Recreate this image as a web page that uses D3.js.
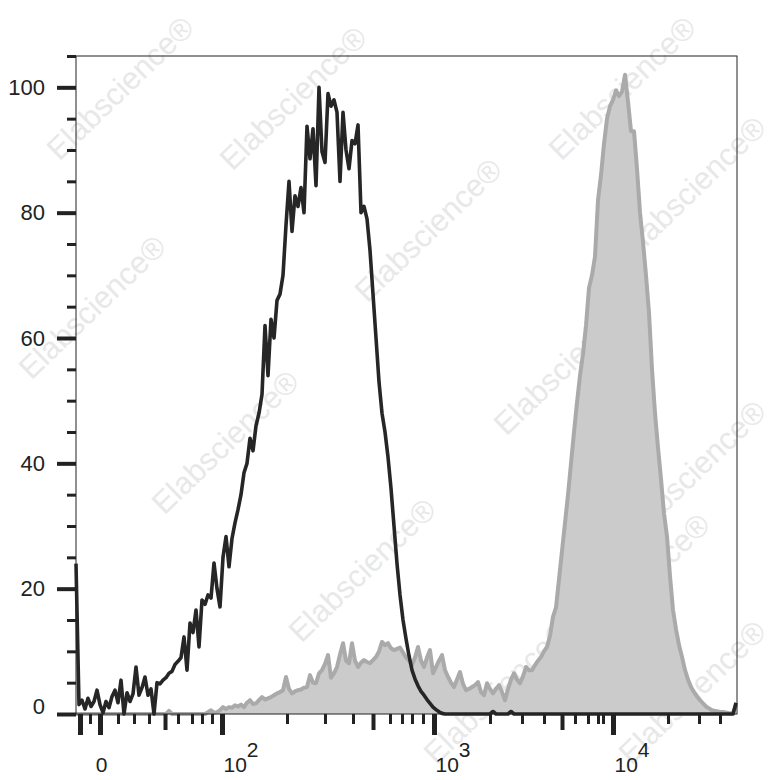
<!DOCTYPE html>
<html><head><meta charset="utf-8">
<script src="https://cdn.jsdelivr.net/npm/d3@7"></script>
<style>body{margin:0;background:#fff}</style>
</head><body><svg id="c" width="779" height="780"></svg>
<script>
// ---- data (histogram counts per display channel, % of max) ----
const channelMax = 220.33;
const yMax = 105;
const blackCounts = [
24,1.5,2.2,0.8,2.5,1.2,2.0,3.8,1.5,0.2,
2.0,1.0,2.8,3.8,1.8,5.4,0,3.4,2.0,3.2,
7.5,3.0,4.2,5.9,3.0,4.0,0,5.0,4.8,5.4,
5.8,6.5,6.8,7.9,8.4,9.0,12.3,7.0,14.5,13,
16.6,10.7,18.2,17.5,19.0,18.5,24.1,20,17.1,25,
28.3,23.5,28,30.5,32.6,35,38.5,40,44,42,
46,48,51,62,54,63,60,66,67,70,
78,85,77,82.7,81,84,80,93.8,88.6,93.4,
84.3,100,89.7,88,99,97,98,96,85,96,
90,87,91.5,91,94,80,81,79,74,67,
60,53,48,45,41,36,30,24,19,15,
12,9.3,7,5.6,4.5,3.6,3.0,2.3,1.7,1.1,
0.7,0.35,0.1,0,0,0,0,0,0,0,
0,0,0,0,0,0,0,0,0,0.4,
0,0,0,0,0,0.4,0,0,0,0,
0,0,0,0,0,0,0,0,0,0,
0,0,0,0,0,0,0,0,0,0,
0,0,0,0,0,0,0,0,0,0,
0,0,0,0,0,0,0,0,0,0,
0,0,0,0,0,0,0,0,0,0,
0,0,0,0,0,0,0,0,0,0,
0,0,0,0,0,0,0,0,0,0,
1.8];
const greyCounts = [
0,0,0,0,0,0,0,0,0,0,
0,0,0,0,0,0,0,0,0,0,
0,0,0,0,0,0,0,0,0,0,
0,0.5,0,0,0,0,0,0,0,0,
0,0,0,0,0.3,0.6,0.2,0.3,0.6,1.1,
0.8,1.1,1.0,1.4,1.2,1.5,1.1,1.8,2.2,1.6,
1.7,2.2,2.7,2.3,2.5,2.7,3.0,3.3,3.5,3.8,
5.9,4.0,3.3,3.6,3.8,3.9,4.2,4.3,6.2,5.0,
4.9,6.5,7.0,8.0,9.4,5.8,6.5,7.5,9.5,11.3,
8.5,8.1,11.3,8.5,7.5,8.2,8.6,8.3,8.1,8.6,
9.1,10,11.5,11,11.3,10.5,10.2,10.4,10.6,9.8,
9.0,8.5,7.8,9.0,10.7,8.5,7.5,9.0,10.2,6.5,
7.5,8.5,9.4,7.0,5.9,5.0,4.3,5.5,6.7,4.8,
3.8,4.0,4.3,4.6,5.1,3.5,3.0,4.9,4.0,3.3,
4.0,4.6,3.5,2.2,4.0,5.5,6.5,5.5,4.9,6.0,
7.5,7.0,7.0,7.8,8.5,9.1,10.0,10.7,12.5,15.5,
17.0,21.5,26,30.5,35,40,45,49.7,54,57.5,
62,68,70,73,82,86,91,95,97,98,
99.5,98.6,99.3,102,97.7,93,93,87,80,75.3,
70,64,55,48,42.5,37.5,32,28.3,22,16.6,
13.5,11,9.1,7,5.5,4.3,3.5,2.8,2.2,1.7,
1.2,0.9,0.6,0.5,0.4,0.3,0.3,0.2,0.1,0.1,
1.5];
const yMajorTicks = [0,20,40,60,80,100];
const yMinorTicks = [5,10,15,25,30,35,45,50,55,65,70,75,85,90,95,105];
const xMajorTicks = [1.33, 8, 48.67, 119.33, 179];
const xMajorBase = ["", "0", "10", "10", "10"];
const xMajorExp = ["", "", "2", "3", "4"];
const xMidTicks = [29.67, 99, 162];
const xMinorTicks = [4.67, 14, 19.33, 24.33, 34, 38.67, 42, 45.33,
  70.33, 83, 92.33, 104.67, 108.67, 112, 115.67,
  138, 148.67, 156, 166.33, 170.67, 174, 175.67,
  197.33, 207.67, 214.67];
const watermarkText = "Elabscience\u00AE";

// ---- layout ----
const W = 779, H = 780;
const plot = {left:76, right:737, top:56, bottom:714};
const FONT = "Arial, 'Liberation Sans', sans-serif";
const ink = "#222";

const svg = d3.select("#c");
svg.append("rect").attr("width", W).attr("height", H).attr("fill", "#fff");

// watermarks (kept fully inside the picture)
const wmPos = [[120,88],[293,98],[622,88],[692,188],[92,307],[428,230],[567,363],
  [692,472],[225,442],[362,570],[636,585],[497,692],[692,692]];
const wm = svg.append("g");
wmPos.forEach(([cx, cy]) => {
  wm.append("text")
    .attr("transform", `translate(${cx},${cy}) rotate(-44)`)
    .attr("text-anchor", "middle").attr("dy", "0.35em")
    .attr("font-family", FONT).attr("font-size", 31)
    .attr("fill", "#e8e8e8").text(watermarkText);
});

const x = d3.scaleLinear().domain([0, channelMax]).range([plot.left, plot.right]);
const y = d3.scaleLinear().domain([0, yMax]).range([plot.bottom, plot.top]);
const bins = d3.range(greyCounts.length);

// grey filled histogram
svg.append("path").datum(bins)
  .attr("d", d3.area().x(i => x(i)).y0(y(0)).y1(i => y(greyCounts[i])))
  .attr("fill", "#cbcbcb");
svg.append("path").datum(bins)
  .attr("d", d3.line().x(i => x(i)).y(i => y(greyCounts[i])))
  .attr("fill", "none").attr("stroke", "#aaaaaa").attr("stroke-width", 4)
  .attr("stroke-linejoin", "round");

// black outline histogram
svg.append("path").datum(d3.range(blackCounts.length))
  .attr("d", d3.line().x(i => x(i)).y(i => y(blackCounts[i])))
  .attr("fill", "none").attr("stroke", "#262626").attr("stroke-width", 3.6)
  .attr("stroke-linejoin", "round");

// frame
svg.append("rect")
  .attr("x", plot.left).attr("y", plot.top)
  .attr("width", plot.right - plot.left).attr("height", plot.bottom - plot.top)
  .attr("fill", "none").attr("stroke", ink).attr("stroke-width", 1);

// y axis
const gyMinor = svg.append("g").attr("transform", `translate(${plot.left},0)`)
  .call(d3.axisLeft(y).tickValues(yMinorTicks).tickSize(9).tickFormat(""));
gyMinor.select(".domain").remove();
gyMinor.selectAll(".tick line").attr("stroke", ink).attr("stroke-width", 3);

const gy = svg.append("g").attr("transform", `translate(${plot.left},0)`)
  .call(d3.axisLeft(y).tickValues(yMajorTicks).tickSize(19).tickPadding(12));
gy.select(".domain").remove();
gy.attr("font-family", FONT).attr("font-size", 22);
gy.selectAll(".tick line").attr("stroke", ink).attr("stroke-width", 4);
gy.selectAll(".tick text").attr("fill", ink);
gy.selectAll(".tick").filter(d => d === 0).select("text").attr("dy", "-0.04em");

// x axis
function xTickGroup(vals, size, width) {
  const g = svg.append("g").attr("transform", `translate(0,${plot.bottom})`)
    .call(d3.axisBottom(x).tickValues(vals).tickSize(size).tickFormat(""));
  g.select(".domain").remove();
  g.selectAll(".tick line").attr("stroke", ink).attr("stroke-width", width);
  return g;
}
xTickGroup(xMinorTicks, 10, 3);
xTickGroup(xMidTicks, 16, 4);
const gx = xTickGroup(xMajorTicks, 21, 5);
gx.selectAll(".tick text").remove();
gx.selectAll(".tick").each(function(d, i) {
  const base = xMajorBase[i], exp = xMajorExp[i];
  if (!base) return;
  const t = d3.select(this).append("text")
    .attr("font-family", FONT).attr("font-size", 21).attr("fill", ink)
    .attr("y", 58);
  if (exp) {
    t.attr("x", 1).attr("text-anchor", "start");
    t.append("tspan").text(base);
    t.append("tspan").attr("dy", -15).text(exp);
  } else {
    t.attr("x", 1).attr("text-anchor", "middle").text(base);
  }
});
</script></body></html>
